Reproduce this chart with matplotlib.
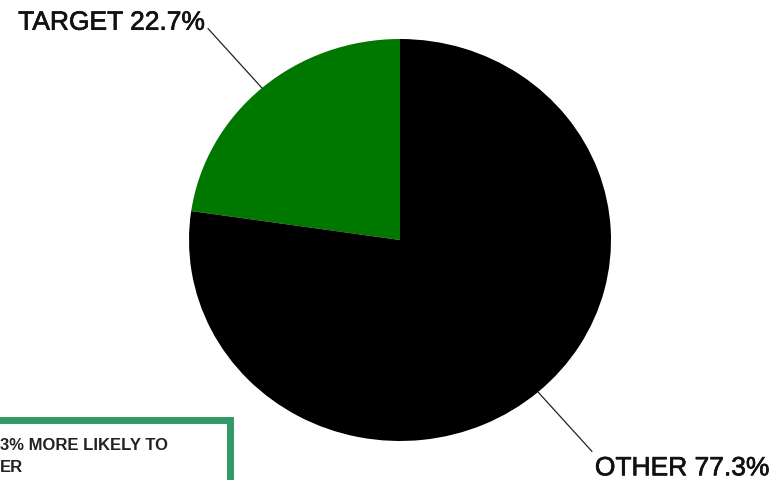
import numpy as np
import matplotlib
matplotlib.use('Agg')
import matplotlib.pyplot as plt
import matplotlib.patheffects as pe
from matplotlib.patches import Rectangle

# Данные круговой диаграммы
labels = ['TARGET', 'OTHER']
shares = [22.7, 77.3]
colors = ['#007800', '#000000']

# Текст во врезке (обрезан слева в оригинале)
note_lines = ['3% MORE LIKELY TO', 'ER']

W, H = 773, 480
fig = plt.figure(figsize=(W / 100, H / 100), dpi=100)
plt.rcParams['font.family'] = ['Liberation Sans', 'DejaVu Sans']

# Центр и радиусы круга в пикселях (круг слегка вытянут по горизонтали)
cx, cy = 400, 240
rx, ry = 211, 201

# Оси для круга: единичный радиус, масштаб подобран под пиксели
ax = fig.add_axes([0, 0, 1, 1])
ax.pie(shares, colors=colors, startangle=90, counterclock=True, radius=1,
       center=(0, 0), frame=True, wedgeprops=dict(linewidth=0))
ax.set_aspect('auto')
ax.set_xlim(-cx / rx, (W - cx) / rx)
ax.set_ylim(-(H - cy) / ry, cy / ry)
ax.axis('off')

# Оверлей в пиксельных координатах
ov = fig.add_axes([0, 0, 1, 1], facecolor='none')
ov.set_xlim(0, W)
ov.set_ylim(H, 0)
ov.axis('off')


def to_px(r, ang):
    a = np.deg2rad(ang)
    return cx + r * rx * np.cos(a), cy - r * ry * np.sin(a)


heavy = [pe.withStroke(linewidth=0.5, foreground='#111111')]

# Подписи с выносными линиями
start = 90.0
total = sum(shares)
for name, val in zip(labels, shares):
    span = 360.0 * val / total
    mid = start + span / 2
    start += span
    x0, y0 = to_px(1.0, mid)
    x1, y1 = to_px(1.39, mid)
    ov.plot([x0, x1], [y0, y1], color='#222222', lw=0.9)
    if np.cos(np.deg2rad(mid)) < 0:
        ov.text(x1 - 3, y1 + 6, f'{name} {val}%', ha='right', va='bottom',
                fontsize=19, color='#111111', path_effects=heavy)
    else:
        ov.text(x1 + 3, y1 + 5, f'{name} {val}%', ha='left', va='top',
                fontsize=19, color='#111111', path_effects=heavy)

# Врезка с зелёной рамкой
ov.add_patch(Rectangle((-20, 419.5), 250, 100, facecolor='white',
                       edgecolor='#339966', linewidth=5.0))
for i, line in enumerate(note_lines):
    ov.text(0, 446 + 21 * i, line, ha='left', va='center', fontsize=12,
            fontweight='bold', color='#222222')

fig.savefig('out.png', dpi=100)
